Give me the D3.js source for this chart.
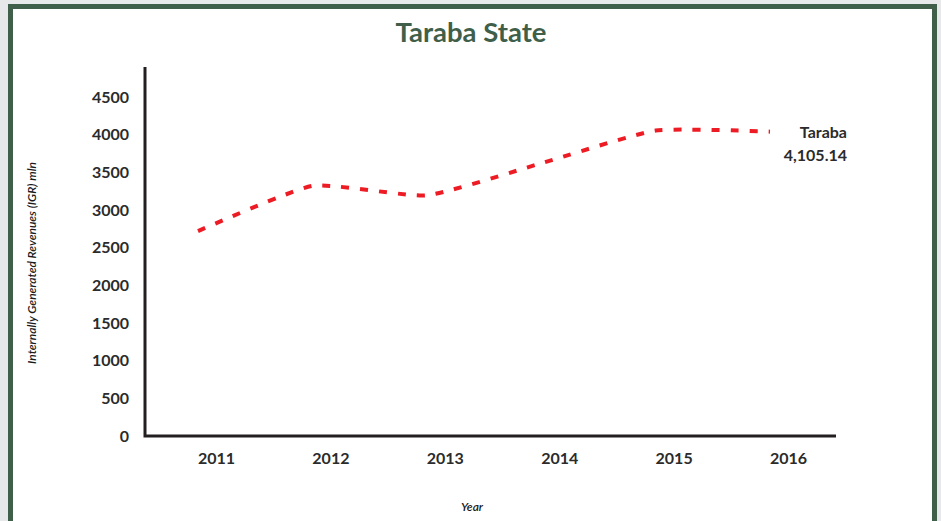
<!DOCTYPE html>
<html><head><meta charset="utf-8">
<script src="https://cdn.jsdelivr.net/npm/d3@7"></script>
<style>html,body{margin:0;padding:0;background:#e7e8e9;}svg{display:block;}</style>
</head><body>
<script>
const years = ["2011","2012","2013","2014","2015","2016"];
const values = [2720, 3320, 3195, 3620, 4055, 4040];
const yTicks = [0,500,1000,1500,2000,2500,3000,3500,4000,4500];
const seriesName = "Taraba";
const seriesLabel = "4,105.14";

const W = 941, H = 521;
const svg = d3.select("body").append("svg").attr("width", W).attr("height", H);
svg.append("rect").attr("x",10.5).attr("y",6.5).attr("width",924).attr("height",600)
  .attr("fill","#fff").attr("stroke","#3f5f4a").attr("stroke-width",5);

svg.append("text").attr("x",471).attr("y",42).attr("text-anchor","middle")
  .style("font-family","Lato").style("font-weight","bold").style("font-size","27.5px")
  .attr("fill","#3f5f4a").text("Taraba State");

const y = d3.scaleLinear().domain([0,4500]).range([436,97]);
const x = d3.scalePoint().domain(years).range([198,770]);

const font = "Lato";
// y axis
const yAx = svg.append("g").attr("transform","translate(145,0)")
  .call(d3.axisLeft(y).tickValues(yTicks).tickSize(0).tickPadding(16).tickFormat(d3.format("d")));
yAx.select(".domain").remove();
yAx.selectAll("text").style("font-family",font).style("font-weight","bold").style("font-size","16px").attr("fill","#2b2b2b");

// x axis labels
const xAx = svg.append("g").attr("transform","translate(0,436)")
  .call(d3.axisBottom(x).tickSize(0).tickPadding(17));
xAx.select(".domain").remove();
xAx.selectAll("text").attr("dx",18).style("font-family",font).style("font-weight","bold").style("font-size","16px").attr("fill","#2b2b2b");

// axis lines
svg.append("path").attr("d","M145,67V436H836").attr("fill","none").attr("stroke","#231f20").attr("stroke-width",3);

// line
const line = d3.line().x((d,i)=>x(years[i])).y(d=>y(d)).curve(d3.curveCardinal.tension(0.5));
svg.append("path").datum(values).attr("d",line).attr("fill","none")
  .attr("stroke","#ed1c24").attr("stroke-width",4).attr("stroke-dasharray","8,11");

// end label
svg.append("text").attr("x",847).attr("y",138).attr("text-anchor","end")
  .style("font-family",font).style("font-weight","bold").style("font-size","16px").attr("fill","#2b2b2b").text(seriesName);
svg.append("text").attr("x",847).attr("y",161).attr("text-anchor","end")
  .style("font-family",font).style("font-weight","bold").style("font-size","16px").attr("fill","#2b2b2b").text(seriesLabel);

// axis titles
svg.append("text").attr("transform","translate(36,263) rotate(-90)").attr("text-anchor","middle")
  .style("font-family",font).style("font-style","italic").style("font-weight","600").style("font-size","12px").attr("fill","#1a1a1a")
  .text("Internally Generated Revenues (IGR)  mln");
svg.append("text").attr("x",472).attr("y",511).attr("text-anchor","middle")
  .style("font-family",font).style("font-style","italic").style("font-weight","600").style("font-size","12px").attr("fill","#1a1a1a")
  .text("Year");
</script>
</body></html>
